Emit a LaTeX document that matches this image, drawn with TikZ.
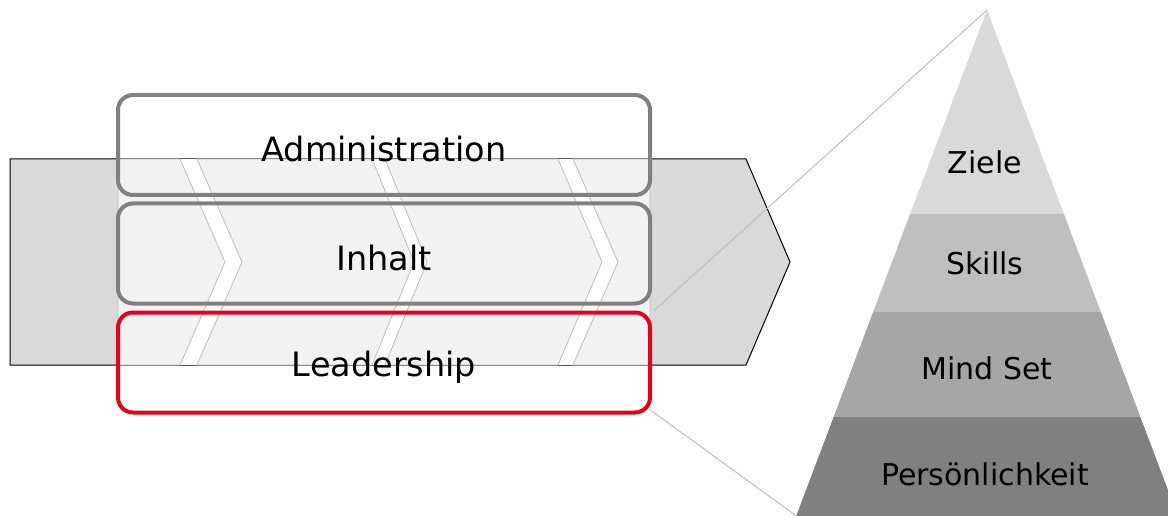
\documentclass[tikz,border=0pt]{standalone}
\usepackage{fontspec}
\setmainfont{DejaVu Sans}
\definecolor{arrowgray}{HTML}{D9D9D9}
\definecolor{chevfill}{HTML}{F2F2F2}
\definecolor{chevline}{HTML}{BFBFBF}
\definecolor{boxgray}{HTML}{808080}
\definecolor{leadred}{HTML}{E2001A}
\definecolor{lay1}{HTML}{D9D9D9}
\definecolor{lay2}{HTML}{BFBFBF}
\definecolor{lay3}{HTML}{A6A6A6}
\definecolor{lay4}{HTML}{808080}
\tikzset{
  bigarrow/.style={fill=arrowgray, draw=black, line width=1pt, line join=miter},
  chev/.style={fill=chevfill, draw=chevline, line width=0.8pt, line join=miter},
  areabox/.style={draw=boxgray, line width=4pt, rounded corners=15pt, minimum width=532pt, minimum height=100pt, inner sep=0pt},
  leadbox/.style={areabox, draw=leadred},
  boxtext/.style={font=\fontsize{33.5}{40}\selectfont, inner sep=0pt},
  layertext/.style={font=\fontsize{30}{36}\selectfont, inner sep=0pt},
  connector/.style={draw=chevline, line width=1pt}
}
\begin{document}
\begin{tikzpicture}[x=1pt, y=-1pt]
\useasboundingbox (0,0) rectangle (1168,516);
\clip (0,0) rectangle (1168,516);
% big process arrow
\path[bigarrow] (10,159) -- (746,159) -- (790,262) -- (746,365) -- (10,365) -- cycle;
\fill[white] (118,159) rectangle (650,365);
% chevrons
\path[chev] (118,159) -- (180,159) -- (225,262) -- (180,365) -- (118,365) -- cycle;
\path[chev] (197,159) -- (372,159) -- (414,262) -- (372,365) -- (197,365) -- (242,262) -- cycle;
\path[chev] (385,159) -- (558,159) -- (602,262) -- (558,365) -- (385,365) -- (427,262) -- cycle;
\path[chev] (573,159) -- (650,159) -- (650,365) -- (573,365) -- (618,262) -- cycle;
% boxes
\node[areabox] (admin) at (384,145) {};
\node[areabox] (inhalt) at (384,253.5) {};
\node[leadbox] (lead) at (384,362.5) {};
\node[boxtext] (admintext) at ([yshift=-4pt]admin.center) {Administration};
\node[boxtext] (inhalttext) at ([yshift=-4.5pt]inhalt.center) {Inhalt};
\node[boxtext] (leadtext) at ([yshift=-4.5pt]lead.center) {Leadership};
% pyramid
\fill[lay1] (987,10) -- (1063.9,214) -- (910.1,214) -- cycle;
\fill[lay2] (910.1,214) -- (1063.9,214) -- (1100.9,312) -- (873.1,312) -- cycle;
\fill[lay3] (873.1,312) -- (1100.9,312) -- (1140.4,417) -- (833.6,417) -- cycle;
\fill[lay4] (833.6,417) -- (1140.4,417) -- (1177.8,516) -- (796.2,516) -- cycle;
\coordinate (apex) at (987,10);
\coordinate (baseleft) at (796.5,516);
\node[layertext] (ziele) at (985,162) {Ziele};
\node[layertext] (skills) at (985,263) {Skills};
\node[layertext] (mindset) at (987,368) {Mind Set};
\node[layertext] (pers) at (985,474) {Persönlichkeit};
% connectors
\draw[connector] ([xshift=2pt]lead.north east) -- (apex);
\draw[connector] ([xshift=-1pt,yshift=4pt]lead.south east) -- (baseleft);
\end{tikzpicture}
\end{document}
